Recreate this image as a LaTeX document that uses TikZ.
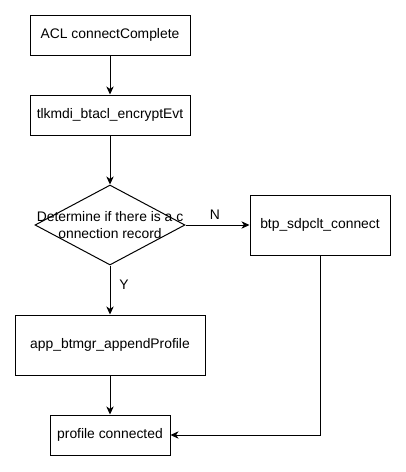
\documentclass[tikz,border=0pt]{standalone}
\usepackage{fontspec}
\setmainfont{Liberation Sans}
\usetikzlibrary{arrows.meta,shapes.geometric}
\begin{document}
\begin{tikzpicture}[x=0.75pt,y=-0.75pt,
  box/.style={draw,line width=0.75pt,rectangle,inner sep=0pt,font=\fontsize{10.4pt}{12.5pt}\selectfont},
  dia/.style={draw,line width=0.75pt,diamond,inner sep=0pt,minimum width=112.5pt,minimum height=60pt},
  lbl/.style={font=\fontsize{10.4pt}{12.5pt}\selectfont,inner sep=0pt},
  conn/.style={line width=0.75pt,-{Stealth[length=6pt,width=5.5pt,inset=1.8pt]}}]
\useasboundingbox[fill=white] (0,0) rectangle (406,472);
\node[box,minimum width=120pt,minimum height=30pt] (acl) at (110,35) {ACL connectComplete};
\node[box,minimum width=120pt,minimum height=30pt] (enc) at (110,115) {tlkmdi\_btacl\_encryptEvt};
\node[dia] (d) at (110,225) {};
\node[lbl,align=center] (dt) at (110,225) {Determine if there is a c\\onnection record};
\node[box,minimum width=105pt,minimum height=45pt] (btp) at (320,225) {btp\_sdpclt\_connect};
\node[box,minimum width=142.5pt,minimum height=45pt] (app) at (110,345) {app\_btmgr\_appendProfile};
\node[box,minimum width=90pt,minimum height=30pt] (pc) at (110,435) {profile connected};
\draw[conn] (acl) -- (enc);
\draw[conn] (enc) -- (d.north);
\draw[conn] (d.east) -- (btp.west);
\draw[conn] (d.south) -- (app.north);
\draw[conn] (app) -- (pc);
\draw[conn] (btp.south) |- (pc.east);
\node[lbl] (n) at (215,215) {N};
\node[lbl] (y) at (124,285) {Y};
\end{tikzpicture}
\end{document}
